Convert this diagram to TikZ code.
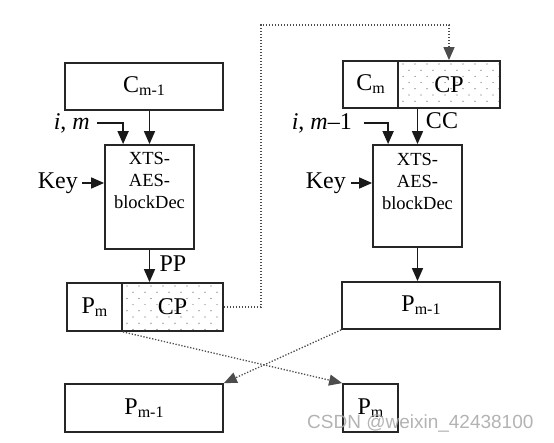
\documentclass[tikz,border=0pt]{standalone}
\usepackage{fontspec}
\setmainfont{Liberation Serif}
\newfontfamily\wmfont{Liberation Sans}
\usetikzlibrary{arrows.meta,calc}
\newcommand\mysub[1]{\raisebox{-3pt}{\fontsize{16}{16}\selectfont #1}}
\begin{document}
\begin{tikzpicture}[x=1pt,y=-1pt,
 box/.style={draw=black!85,line width=1.8pt,inner sep=0pt,font=\fontsize{24}{26}\selectfont},
 lbl/.style={inner sep=0pt,font=\fontsize{24}{26}\selectfont},
 xts/.style={inner sep=0pt,align=center,anchor=north,font=\fontsize{18.5}{22}\selectfont},
 arr/.style={draw=black!90,line width=1.6pt,-{Triangle[length=13pt,width=11pt]}},
 dline/.style={draw=black!70,line width=1.3pt,dash pattern=on 1.3pt off 1.7pt,-{Triangle[length=13pt,width=11pt]}},
 dotfill/.style={path picture={
   \foreach \r [evaluate=\r as \off using {mod(\r,2)*6}] in {0,...,7}{
     \foreach \c in {0,...,8}{
       \fill[black!65] ($(path picture bounding box.north west)+(5+\c*12+\off,3+\r*6.2)$) circle (0.6pt);
     }}}}
]
\useasboundingbox (0,0) rectangle (554,442);

% left column
\node[box,minimum width=158pt,minimum height=47pt] (cm1) at (144,86.5) {C\mysub{m-1}};
\node[box,minimum width=89pt,minimum height=104pt] (xtsL) at (149.5,197) {};
\node[xts] (tL) at ([yshift=-8pt]xtsL.north) {XTS-\\AES-\\blockDec};
\node[box,minimum width=55pt,minimum height=48pt] (pmL) at (94.5,307) {P\mysub{m}};
\node[box,dotfill,minimum width=101pt,minimum height=48pt] (cpL) at (172.5,307) {CP};
\node[box,minimum width=158pt,minimum height=48pt] (pm1L) at (144,408) {P\mysub{m-1}};

\node[lbl,anchor=east] (imL) at (90,123) {\textit{i}, \textit{m}};
\coordinate (imLT) at ($(xtsL.north west)+(19,0)$);
\node[lbl,anchor=east] (keyL) at (78,183) {Key};
\node[lbl] (pp) at (173,264) {PP};

\draw[arr] (xtsL.north |- cm1.south) -- (xtsL.north);
\draw[arr] ([xshift=7pt]imL.east) -| (imLT);
\draw[arr] ([xshift=4pt]keyL.east) -- (keyL.east -| xtsL.west);
\draw[arr] (xtsL.south) -- (xtsL.south |- cpL.north);

% right column
\node[box,minimum width=55pt,minimum height=47pt] (cmR) at (370.5,84.5) {C\mysub{m}};
\node[box,dotfill,minimum width=102pt,minimum height=47pt] (cpR) at (449,84.5) {CP};
\node[box,minimum width=89pt,minimum height=102pt] (xtsR) at (417.5,196) {};
\node[xts] (tR) at ([yshift=-9pt]xtsR.north) {XTS-\\AES-\\blockDec};
\node[box,minimum width=158pt,minimum height=47pt] (pm1R) at (421,305.5) {P\mysub{m-1}};
\node[box,minimum width=55pt,minimum height=48pt] (pmR) at (370.5,408) {P\mysub{m}};

\node[lbl,anchor=east] (imR) at (352,123) {\textit{i}, \textit{m}–1};
\coordinate (imRT) at ($(xtsR.north west)+(16,0)$);
\node[lbl,anchor=east] (keyR) at (346,183) {Key};
\node[lbl] (cc) at (442,121) {CC};

\draw[arr] (xtsR.north |- cpR.south) -- (xtsR.north);
\draw[arr] ([xshift=12pt]imR.east) -| (imRT);
\draw[arr] ([xshift=5pt]keyR.east) -- (keyR.east -| xtsR.west);
\draw[arr] (xtsR.south) -- (xtsR.south |- pm1R.north);

% dotted connectors
\coordinate (loopC) at (261,25);
\draw[dline] (cpL.east) -| (loopC) -| (cpR.north);
\draw[dline] (pmL.south east) -- (pmR.north west);
\draw[dline] (pm1R.south west) -- (pm1L.north east);

% watermark
\node[font=\wmfont\fontsize{19}{19}\selectfont,text=gray!70,opacity=0.85,anchor=west,inner sep=0pt] (wm) at (307,423) {CSDN @weixin\_42438100};
\end{tikzpicture}
\end{document}
